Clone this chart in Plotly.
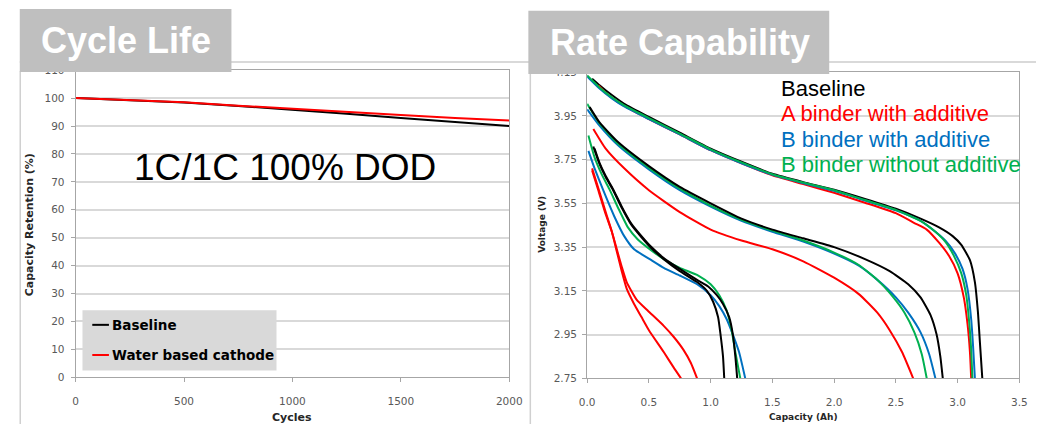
import plotly.graph_objects as go

W, H = 1049, 430

# ---------------- Cycle life ----------------
cycles = [0, 250, 500, 750, 1000, 1250, 1500, 1750, 2000]
baseline_retention = [100, 99.3, 98.4, 97.2, 95.9, 94.4, 92.9, 91.5, 90.0]
water_cathode_retention = [100, 99.3, 98.5, 97.3, 96.1, 95.0, 93.9, 92.9, 92.0]
cycle_ticks = [0, 500, 1000, 1500, 2000]
retention_ticks = list(range(0, 111, 10))

# ---------------- Rate capability (discharge curves) ----------------
# low rate
base_low_ah = [0.04, 0.1, 0.2, 0.3, 0.5, 0.75, 1.0, 1.25, 1.5, 1.75, 2.0, 2.25, 2.5, 2.7, 2.85, 2.96, 3.03, 3.1, 3.14, 3.165, 3.18, 3.2]
base_low_v = [4.12, 4.09, 4.045, 4.005, 3.945, 3.873, 3.80, 3.74, 3.685, 3.647, 3.612, 3.57, 3.525, 3.48, 3.44, 3.40, 3.36, 3.29, 3.19, 3.05, 2.92, 2.75]
a_add_low_ah = [0.09, 0.15, 0.3, 0.5, 0.75, 1.0, 1.25, 1.5, 1.75, 2.0, 2.25, 2.5, 2.65, 2.75, 2.85, 2.93, 3.0, 3.05, 3.08, 3.1, 3.11]
a_add_low_v = [4.09, 4.055, 3.995, 3.935, 3.865, 3.793, 3.733, 3.678, 3.638, 3.598, 3.553, 3.505, 3.46, 3.43, 3.37, 3.31, 3.23, 3.12, 3.0, 2.87, 2.75]
b_add_low_ah = [0.0, 0.1, 0.2, 0.3, 0.5, 0.75, 1.0, 1.25, 1.5, 1.75, 2.0, 2.25, 2.5, 2.7, 2.82, 2.9, 2.98, 3.04, 3.08, 3.11, 3.125, 3.14]
b_add_low_v = [4.13, 4.075, 4.03, 3.993, 3.935, 3.865, 3.793, 3.733, 3.68, 3.642, 3.607, 3.563, 3.518, 3.47, 3.42, 3.38, 3.32, 3.25, 3.16, 3.02, 2.9, 2.75]
b_noadd_low_ah = [0.0, 0.1, 0.2, 0.3, 0.5, 0.75, 1.0, 1.25, 1.5, 1.75, 2.0, 2.25, 2.5, 2.7, 2.82, 2.9, 2.97, 3.03, 3.07, 3.095, 3.11, 3.12]
b_noadd_low_v = [4.135, 4.08, 4.035, 3.998, 3.94, 3.869, 3.797, 3.737, 3.683, 3.645, 3.61, 3.565, 3.52, 3.47, 3.42, 3.375, 3.31, 3.23, 3.13, 3.0, 2.88, 2.75]

# medium rate
base_mid_ah = [0.02, 0.1, 0.25, 0.5, 0.75, 1.0, 1.25, 1.5, 1.75, 2.0, 2.25, 2.45, 2.6, 2.7, 2.78, 2.83, 2.86, 2.88]
base_mid_v = [3.99, 3.92, 3.83, 3.72, 3.625, 3.55, 3.48, 3.43, 3.39, 3.35, 3.295, 3.24, 3.18, 3.12, 3.04, 2.95, 2.85, 2.75]
a_add_mid_ah = [0.05, 0.15, 0.3, 0.5, 0.75, 1.0, 1.25, 1.5, 1.75, 2.0, 2.2, 2.35, 2.45, 2.55, 2.64]
a_add_mid_v = [3.89, 3.80, 3.71, 3.61, 3.51, 3.43, 3.38, 3.34, 3.285, 3.21, 3.135, 3.05, 2.97, 2.87, 2.75]
b_add_mid_ah = [0.0, 0.1, 0.25, 0.5, 0.75, 1.0, 1.25, 1.5, 1.75, 2.0, 2.2, 2.35, 2.5, 2.6, 2.7, 2.77, 2.82]
b_add_mid_v = [3.98, 3.905, 3.815, 3.705, 3.61, 3.535, 3.47, 3.42, 3.375, 3.32, 3.265, 3.20, 3.12, 3.05, 2.96, 2.86, 2.75]
b_noadd_mid_ah = [0.0, 0.1, 0.25, 0.5, 0.75, 1.0, 1.25, 1.5, 1.75, 2.0, 2.2, 2.35, 2.48, 2.57, 2.65, 2.71, 2.75]
b_noadd_mid_v = [4.005, 3.915, 3.822, 3.712, 3.617, 3.54, 3.475, 3.425, 3.38, 3.325, 3.268, 3.20, 3.12, 3.05, 2.96, 2.86, 2.75]

# high rates
base_hi1_ah = [0.05, 0.1, 0.15, 0.21, 0.28, 0.36, 0.44, 0.52, 0.62, 0.75, 0.89, 0.97, 1.02, 1.06, 1.08, 1.10, 1.11]
base_hi1_v = [3.81, 3.73, 3.67, 3.61, 3.53, 3.45, 3.395, 3.345, 3.295, 3.24, 3.19, 3.15, 3.10, 3.03, 2.95, 2.85, 2.75]
base_hi2_ah = [0.06, 0.1, 0.15, 0.21, 0.28, 0.36, 0.44, 0.52, 0.62, 0.75, 0.89, 0.98, 1.05, 1.10, 1.15, 1.18, 1.20, 1.215]
base_hi2_v = [3.80, 3.735, 3.675, 3.615, 3.535, 3.455, 3.40, 3.35, 3.30, 3.25, 3.20, 3.17, 3.13, 3.09, 3.03, 2.95, 2.85, 2.75]
a_add_hi1_ah = [0.04, 0.09, 0.15, 0.2, 0.24, 0.28, 0.32, 0.4, 0.49, 0.62, 0.7, 0.78, 0.84, 0.89]
a_add_hi1_v = [3.70, 3.61, 3.50, 3.42, 3.34, 3.26, 3.19, 3.11, 3.06, 2.99, 2.94, 2.88, 2.82, 2.75]
a_add_hi2_ah = [0.04, 0.09, 0.15, 0.2, 0.24, 0.28, 0.32, 0.38, 0.44, 0.5, 0.62, 0.7, 0.76]
a_add_hi2_v = [3.71, 3.62, 3.51, 3.42, 3.33, 3.24, 3.16, 3.09, 3.03, 2.97, 2.87, 2.80, 2.75]
b_add_hi_ah = [0.01, 0.06, 0.13, 0.22, 0.30, 0.38, 0.52, 0.62, 0.75, 0.89, 1.0, 1.07, 1.13, 1.18, 1.23, 1.26, 1.28]
b_add_hi_v = [3.79, 3.71, 3.61, 3.49, 3.40, 3.34, 3.29, 3.255, 3.22, 3.18, 3.13, 3.08, 3.02, 2.95, 2.87, 2.80, 2.75]
b_noadd_hi_ah = [0.01, 0.06, 0.12, 0.18, 0.25, 0.33, 0.41, 0.52, 0.62, 0.75, 0.9, 1.0, 1.07, 1.13, 1.17, 1.2, 1.24]
b_noadd_hi_v = [3.86, 3.76, 3.68, 3.615, 3.53, 3.44, 3.385, 3.335, 3.295, 3.255, 3.22, 3.18, 3.13, 3.06, 2.97, 2.87, 2.75]

capacity_ticks = [0.0, 0.5, 1.0, 1.5, 2.0, 2.5, 3.0, 3.5]
voltage_ticks = [2.75, 2.95, 3.15, 3.35, 3.55, 3.75, 3.95, 4.15]

BLACK, RED, BLUE, GREEN = "#000000", "#ff0000", "#0070c0", "#00b050"
GRID = "#d9d9d9"
FRAME = "#a6a6a6"
TICKFONT = "#595959"
SANS = "DejaVu Sans"
ARIAL = "Liberation Sans, Arial"


def px(x):
    return x / W


def py(y):
    return 1 - y / H


fig = go.Figure()

fig.add_trace(go.Scatter(x=cycles, y=baseline_retention, mode="lines", name="Baseline",
                         line=dict(color=BLACK, width=2), xaxis="x", yaxis="y"))
fig.add_trace(go.Scatter(x=cycles, y=water_cathode_retention, mode="lines", name="Water based cathode",
                         line=dict(color=RED, width=2), xaxis="x", yaxis="y"))

curves = [
    (base_low_ah, base_low_v, BLACK), (a_add_low_ah, a_add_low_v, RED),
    (b_add_low_ah, b_add_low_v, BLUE), (b_noadd_low_ah, b_noadd_low_v, GREEN),
    (a_add_mid_ah, a_add_mid_v, RED), (b_add_mid_ah, b_add_mid_v, BLUE),
    (b_noadd_mid_ah, b_noadd_mid_v, GREEN), (base_mid_ah, base_mid_v, BLACK),
    (a_add_hi1_ah, a_add_hi1_v, RED), (a_add_hi2_ah, a_add_hi2_v, RED),
    (b_add_hi_ah, b_add_hi_v, BLUE), (b_noadd_hi_ah, b_noadd_hi_v, GREEN),
    (base_hi1_ah, base_hi1_v, BLACK), (base_hi2_ah, base_hi2_v, BLACK),
]
for cap, volt, col in curves:
    fig.add_trace(go.Scatter(x=cap, y=volt, mode="lines", showlegend=False,
                             line=dict(color=col, width=2, shape="spline", smoothing=0.5),
                             xaxis="x2", yaxis="y2"))

axis_common = dict(showline=True, linecolor=FRAME, linewidth=1, mirror=True,
                   zeroline=False, ticks="outside", ticklen=4, tickcolor=FRAME,
                   tickfont=dict(family=SANS, size=10.5, color=TICKFONT), fixedrange=True)

fig.update_layout(
    width=W, height=H, autosize=False,
    margin=dict(l=0, r=0, t=0, b=0),
    paper_bgcolor="white", plot_bgcolor="white",
    showlegend=False,
    font=dict(family=SANS),
    xaxis=dict(domain=[px(69), px(511.5)], range=[0, 2000], tickvals=cycle_ticks,
               showgrid=False, anchor="y", ticklabelstandoff=10, **axis_common),
    yaxis=dict(domain=[py(382), py(66)], range=[0, 110], tickvals=retention_ticks,
               showgrid=True, gridcolor=GRID, gridwidth=1.5, anchor="x",
               ticklabelstandoff=4, **axis_common),
    xaxis2=dict(domain=[px(591), px(1032)], range=[0, 3.5], tickvals=capacity_ticks,
                tickformat=".1f", showgrid=False, anchor="y2", ticklabelstandoff=10, **axis_common),
    yaxis2=dict(domain=[py(383), py(68)], range=[2.75, 4.15], tickvals=voltage_ticks,
                tickformat=".2f", showgrid=True, gridcolor=GRID, gridwidth=1.5, anchor="x2",
                ticklabelstandoff=3, **axis_common),
)

shapes = [
    # slide rule line and panel borders
    dict(type="line", x0=px(12), x1=px(1049), y0=py(57.5), y1=py(57.5), line=dict(color="#d9d9d9", width=2)),
    dict(type="line", x0=px(12.5), x1=px(12.5), y0=py(67), y1=py(430), line=dict(color="#d0d0d0", width=1.5)),
    dict(type="line", x0=px(533), x1=px(533), y0=py(69), y1=py(430), line=dict(color="#d0d0d0", width=1.5)),
    # title tabs
    dict(type="rect", x0=px(12), x1=px(228), y0=py(68), y1=py(3), fillcolor="#bfbfbf", line=dict(width=0)),
    dict(type="rect", x0=px(531), x1=px(838), y0=py(70), y1=py(5), fillcolor="#bfbfbf", line=dict(width=0)),
    # cycle-life legend box and its line samples
    dict(type="rect", x0=px(76), x1=px(274), y0=py(375), y1=py(313), fillcolor="#d9d9d9", line=dict(width=0)),
    dict(type="line", x0=px(86), x1=px(103), y0=py(328), y1=py(328), line=dict(color=BLACK, width=2)),
    dict(type="line", x0=px(86), x1=px(103), y0=py(359), y1=py(359), line=dict(color=RED, width=2)),
]
for s in shapes:
    s.update(xref="paper", yref="paper", layer="above")
fig.update_layout(shapes=shapes)


def note(text, x, y, size, color="#000000", family=ARIAL, xanchor="center", bold=False, angle=0):
    if bold:
        text = "<b>" + text + "</b>"
    fig.add_annotation(text=text, x=px(x), y=py(y), xref="paper", yref="paper",
                       xanchor=xanchor, yanchor="middle", showarrow=False, textangle=angle,
                       font=dict(family=family, size=size, color=color))


note("Cycle Life", 32, 35, 36, color="white", xanchor="left", bold=True)
note("Rate Capability", 551, 38, 36, color="white", xanchor="left", bold=True)
note("1C/1C 100% DOD", 283, 166, 37)

note("Baseline", 104, 328, 13.5, family=SANS, xanchor="left", bold=True)
note("Water based cathode", 104, 359, 13.5, family=SANS, xanchor="left", bold=True)

note("Baseline", 787, 85, 22, color=BLACK, xanchor="left")
note("A binder with additive", 787, 111, 22, color=RED, xanchor="left")
note("B binder with additive", 787, 137, 22, color=BLUE, xanchor="left")
note("B binder without additive", 787, 163, 22, color=GREEN, xanchor="left")

note("Cycles", 290, 423, 11, color="#262626", family=SANS, bold=True)
note("Capacity Retention (%)", 22, 225, 11, color="#262626", family=SANS, bold=True, angle=-90)
note("Capacity (Ah)", 811.5, 423, 9, color="#262626", family=SANS, bold=True)
note("Voltage (V)", 545, 225, 9, color="#262626", family=SANS, bold=True, angle=-90)

fig.write_html("out.html", config={"responsive": False, "displayModeBar": False})
